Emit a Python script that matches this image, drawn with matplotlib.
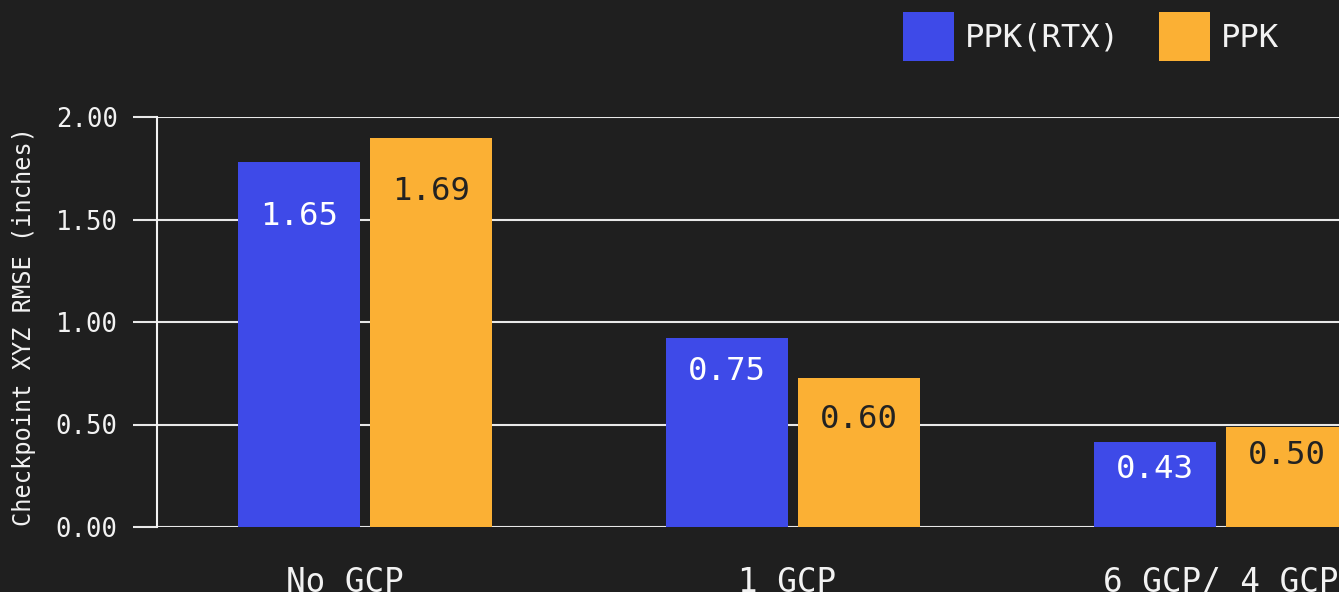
import matplotlib
matplotlib.use("Agg")
import matplotlib.pyplot as plt
import numpy as np
from matplotlib.transforms import ScaledTranslation

categories = ["No GCP", "1 GCP", "6 GCP/ 4 GCP"]
series_names = ["PPK(RTX)", "PPK"]
rtx_heights = [1.78, 0.92, 0.415]
ppk_heights = [1.90, 0.727, 0.49]
rtx_labels = ["1.65", "0.75", "0.43"]
ppk_labels = ["1.69", "0.60", "0.50"]
yticks = [0.0, 0.5, 1.0, 1.5, 2.0]
ytick_labels = ["0.00", "0.50", "1.00", "1.50", "2.00"]
ylabel = "Checkpoint XYZ RMSE (inches)"

# style
BG = "#1f1f1f"
BLUE = "#3e4ae8"
ORANGE = "#fbb034"
FG = "#f2f2f2"
GRID = "#e8e8e8"
MONO = "DejaVu Sans Mono"
rtx_label_off = [39, 24, 20]   # points below bar top
ppk_label_off = [39, 30, 21]
xlabel_shift_px = [-20, -6, 0]

W, H, DPI = 1339, 592, 100
fig = plt.figure(figsize=(W / DPI, H / DPI), dpi=DPI, facecolor=BG)
ax = fig.add_axes([157 / W, (H - 527) / H, (W - 157) / W, 410 / H])
ax.set_facecolor(BG)

x = np.arange(len(categories))
bw = 0.285
off = 0.154
b1 = ax.bar(x - off, rtx_heights, bw, color=BLUE, label=series_names[0], zorder=3)
b2 = ax.bar(x + off, ppk_heights, bw, color=ORANGE, label=series_names[1], zorder=3)

for rect, lab, o in zip(b1, rtx_labels, rtx_label_off):
    ax.annotate(lab, (rect.get_x() + rect.get_width() / 2, rect.get_height()),
                xytext=(0, -o), textcoords="offset points", ha="center", va="center",
                color="white", fontsize=23.3, family=MONO, zorder=4)
for rect, lab, o in zip(b2, ppk_labels, ppk_label_off):
    ax.annotate(lab, (rect.get_x() + rect.get_width() / 2, rect.get_height()),
                xytext=(0, -o), textcoords="offset points", ha="center", va="center",
                color="#222222", fontsize=23.3, family=MONO, zorder=4)

ax.set_xlim(-0.486, 2.276)
ax.set_ylim(0, 2.0)
ax.tick_params(axis="y", length=17.3, width=1.5, color=GRID, pad=11)
ax.tick_params(axis="x", length=0, pad=28)
ax.set_yticks(yticks)
ax.set_yticklabels(ytick_labels, family=MONO, fontsize=18.5, color=FG)
ax.set_xticks(x)
ax.set_xticklabels(categories, family=MONO, fontsize=23.5, color=FG)
for lbl, dx in zip(ax.get_xticklabels(), xlabel_shift_px):
    lbl.set_transform(lbl.get_transform() + ScaledTranslation(dx / DPI, 0, fig.dpi_scale_trans))

ax.grid(axis="y", color=GRID, linewidth=1.5, zorder=0)
ax.set_axisbelow(True)
for s in ["top", "right", "bottom"]:
    ax.spines[s].set_visible(False)
ax.spines["left"].set_color(FG)
ax.spines["left"].set_linewidth(1.5)
ax.spines["left"].set_zorder(2)

fig.text(24 / W, 1 - 327 / H, ylabel, rotation=90, ha="center", va="center",
         family=MONO, fontsize=17, color=FG)

leg = fig.legend(handles=[b1, b2], labels=series_names, loc="upper left",
                 bbox_to_anchor=(903 / W, 1 - 12 / H), ncol=2, frameon=False,
                 borderpad=0, borderaxespad=0, handlelength=1.58, handleheight=1.94,
                 handletextpad=0.34, columnspacing=1.21,
                 prop={"family": MONO, "size": 23.2})
for t in leg.get_texts():
    t.set_color(FG)

fig.savefig("out.png", dpi=DPI, facecolor=BG)
